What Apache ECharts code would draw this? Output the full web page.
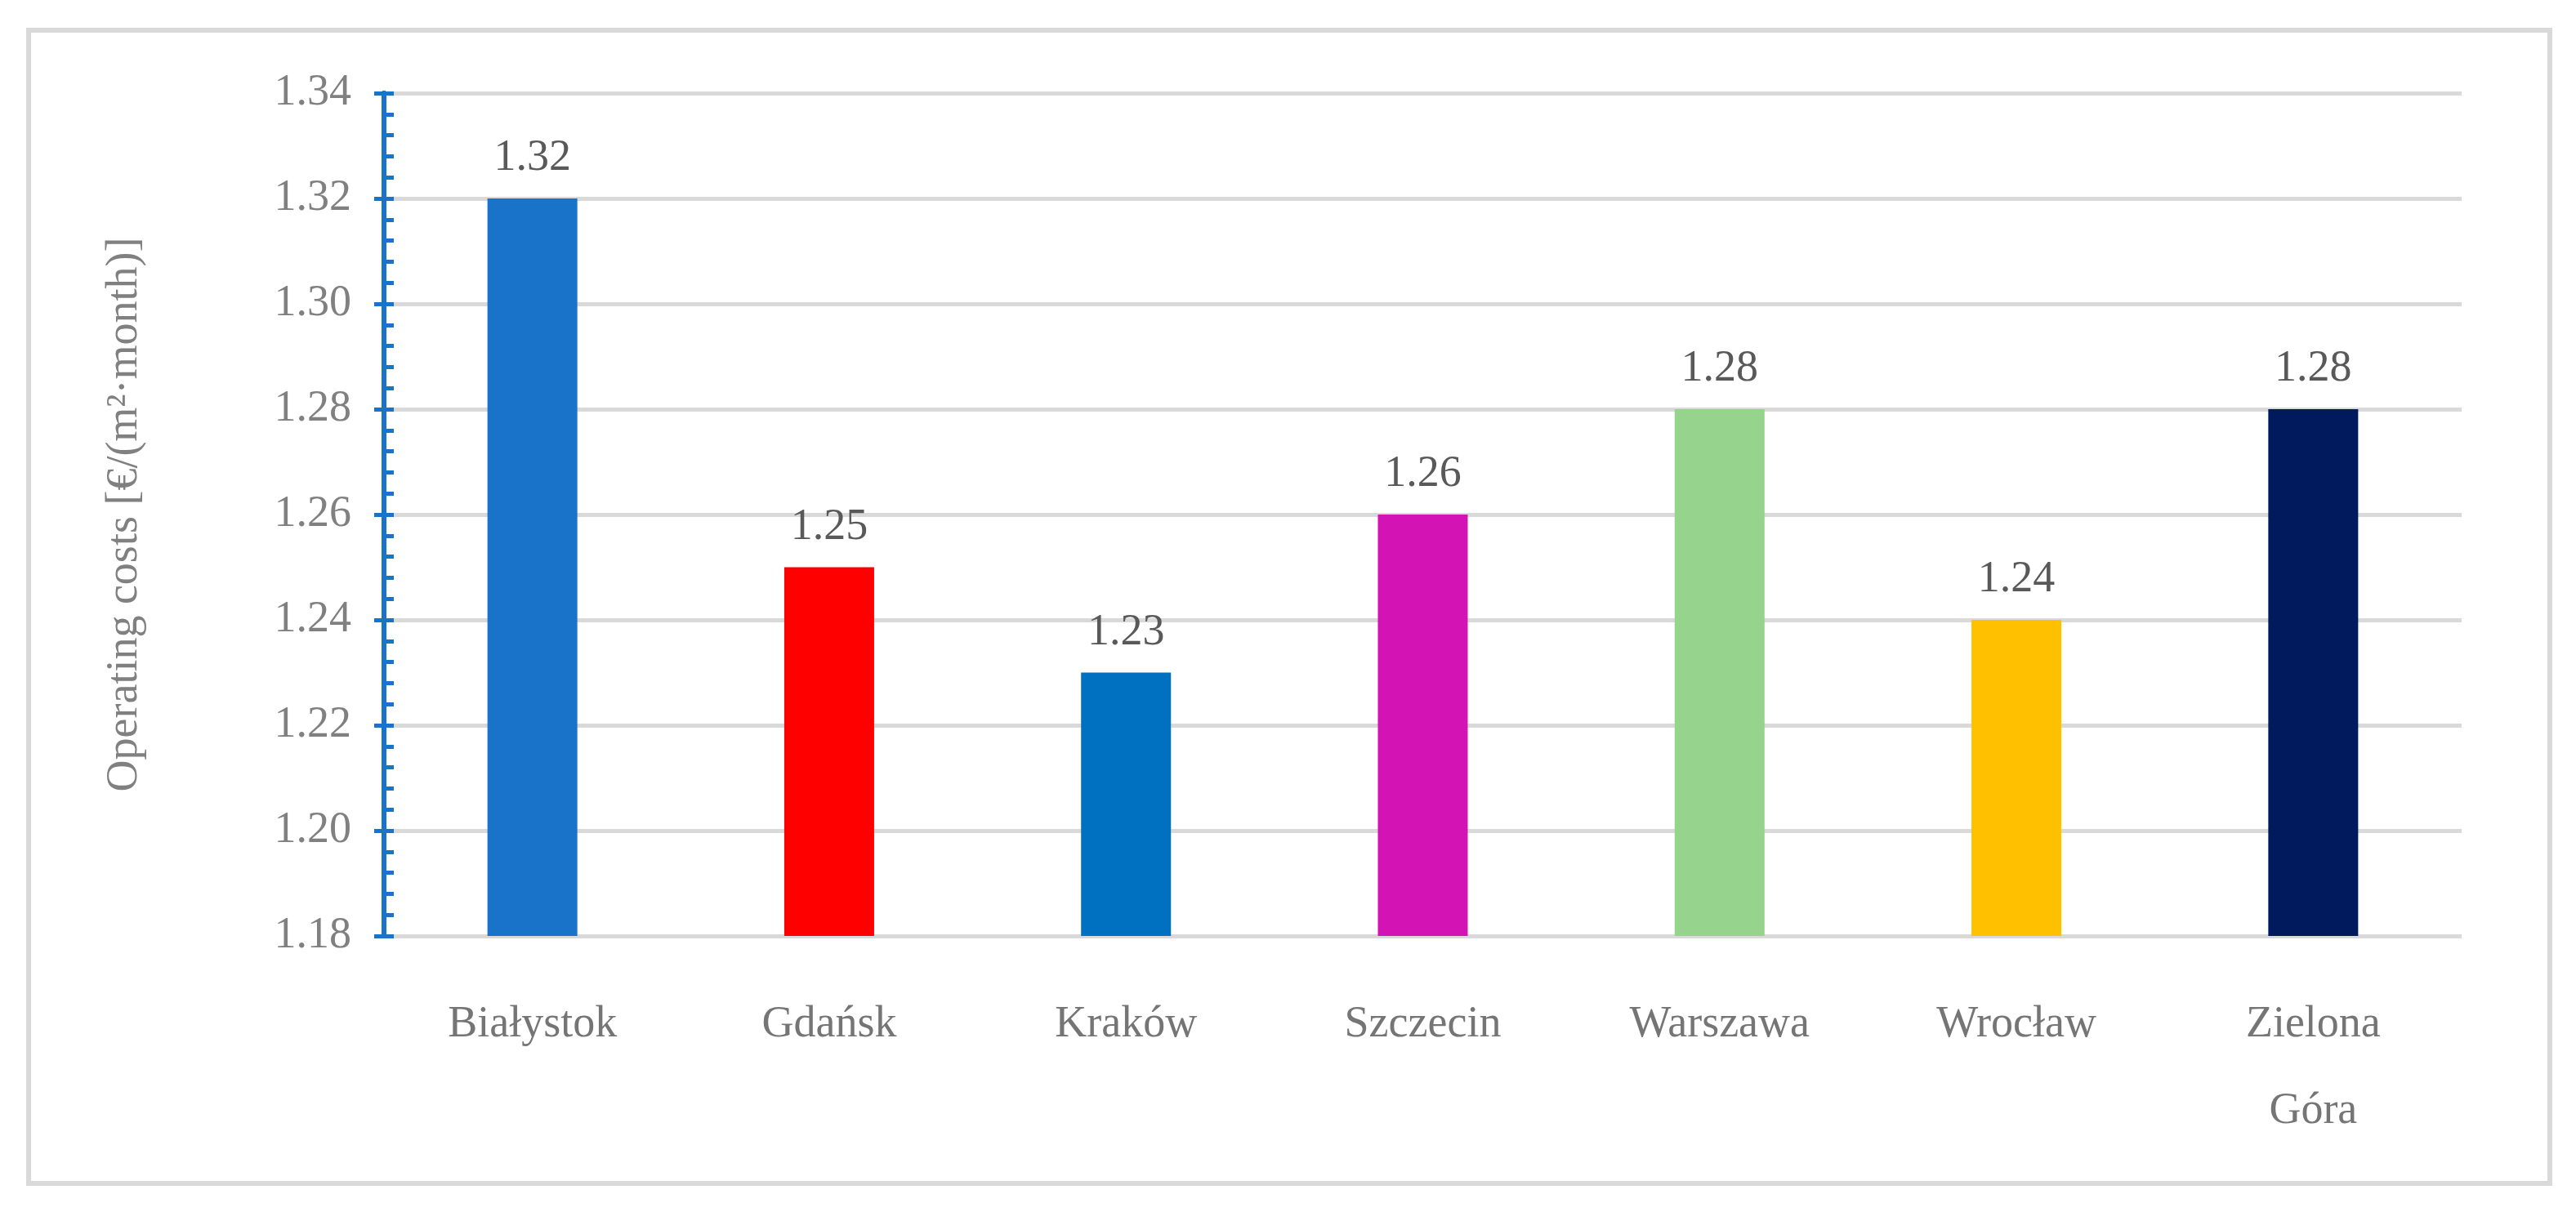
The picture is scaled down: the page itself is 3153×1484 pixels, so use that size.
<!DOCTYPE html>
<html>
<head>
<meta charset="utf-8">
<script src="https://cdn.jsdelivr.net/npm/echarts@6/dist/echarts.min.js"></script>
<style>
  html, body { margin: 0; padding: 0; background: #fff; }
  #frame { position: absolute; left: 32px; top: 34px; width: 3092px; height: 1418px; border: 6px solid #d9d9d9; box-sizing: border-box; }
  #chart { width: 3153px; height: 1484px; }
</style>
</head>
<body>
<div id="frame"></div>
<div id="chart"></div>
<script>
const cities = ['Białystok', 'Gdańsk', 'Kraków', 'Szczecin', 'Warszawa', 'Wrocław', 'Zielona\nGóra']
const costs = [1.32, 1.25, 1.23, 1.26, 1.28, 1.24, 1.28]
const barColors = ['#1873c9', '#ff0000', '#0070c0', '#d313b3', '#96d38c', '#ffc000', '#001a5e']
const yMin = 1.18, yMax = 1.34, yStep = 0.02

const font = '"Liberation Serif", "DejaVu Serif", serif'
const chart = echarts.init(document.getElementById('chart'))
const axisBase = {
  type: 'value', min: yMin, max: yMax, interval: yStep,
  axisLine: { show: true, lineStyle: { color: '#1873c9', width: 6 } }
}
chart.setOption({
  animation: false,
  grid: { left: 470, right: 140, top: 114, bottom: 338 },
  xAxis: {
    type: 'category',
    data: cities,
    axisLine: { show: false },
    axisTick: { show: false },
    axisLabel: { color: '#757575', fontSize: 54, fontFamily: font, margin: 56, lineHeight: 106 }
  },
  yAxis: [Object.assign({}, axisBase, {
    name: 'Operating costs [€/(m²·month)]',
    nameLocation: 'middle',
    nameGap: 290,
    nameTextStyle: { color: '#808080', fontSize: 54, fontFamily: font },
    axisTick: { show: true, inside: true, length: 12, lineStyle: { color: '#1873c9', width: 5 } },
    minorTick: { show: true, splitNumber: 5, length: 12, lineStyle: { color: '#1873c9', width: 5 } },
    splitLine: { show: true, lineStyle: { color: '#d9d9d9', width: 5 } },
    axisLabel: {
      color: '#808080', fontSize: 54, fontFamily: font, margin: 40,
      formatter: v => v.toFixed(2)
    }
  }), Object.assign({}, axisBase, {
    position: 'left',
    axisTick: { show: true, inside: false, length: 12, lineStyle: { color: '#1873c9', width: 5 } },
    splitLine: { show: false },
    axisLabel: { show: false }
  })],
  series: [{
    type: 'bar',
    barWidth: 110,
    data: costs.map((v, i) => ({ value: v, itemStyle: { color: barColors[i] } })),
    label: {
      show: true, position: 'top', distance: 22,
      color: '#595959', fontSize: 54, fontFamily: font,
      formatter: p => p.value.toFixed(2)
    }
  }]
})
</script>
</body>
</html>
